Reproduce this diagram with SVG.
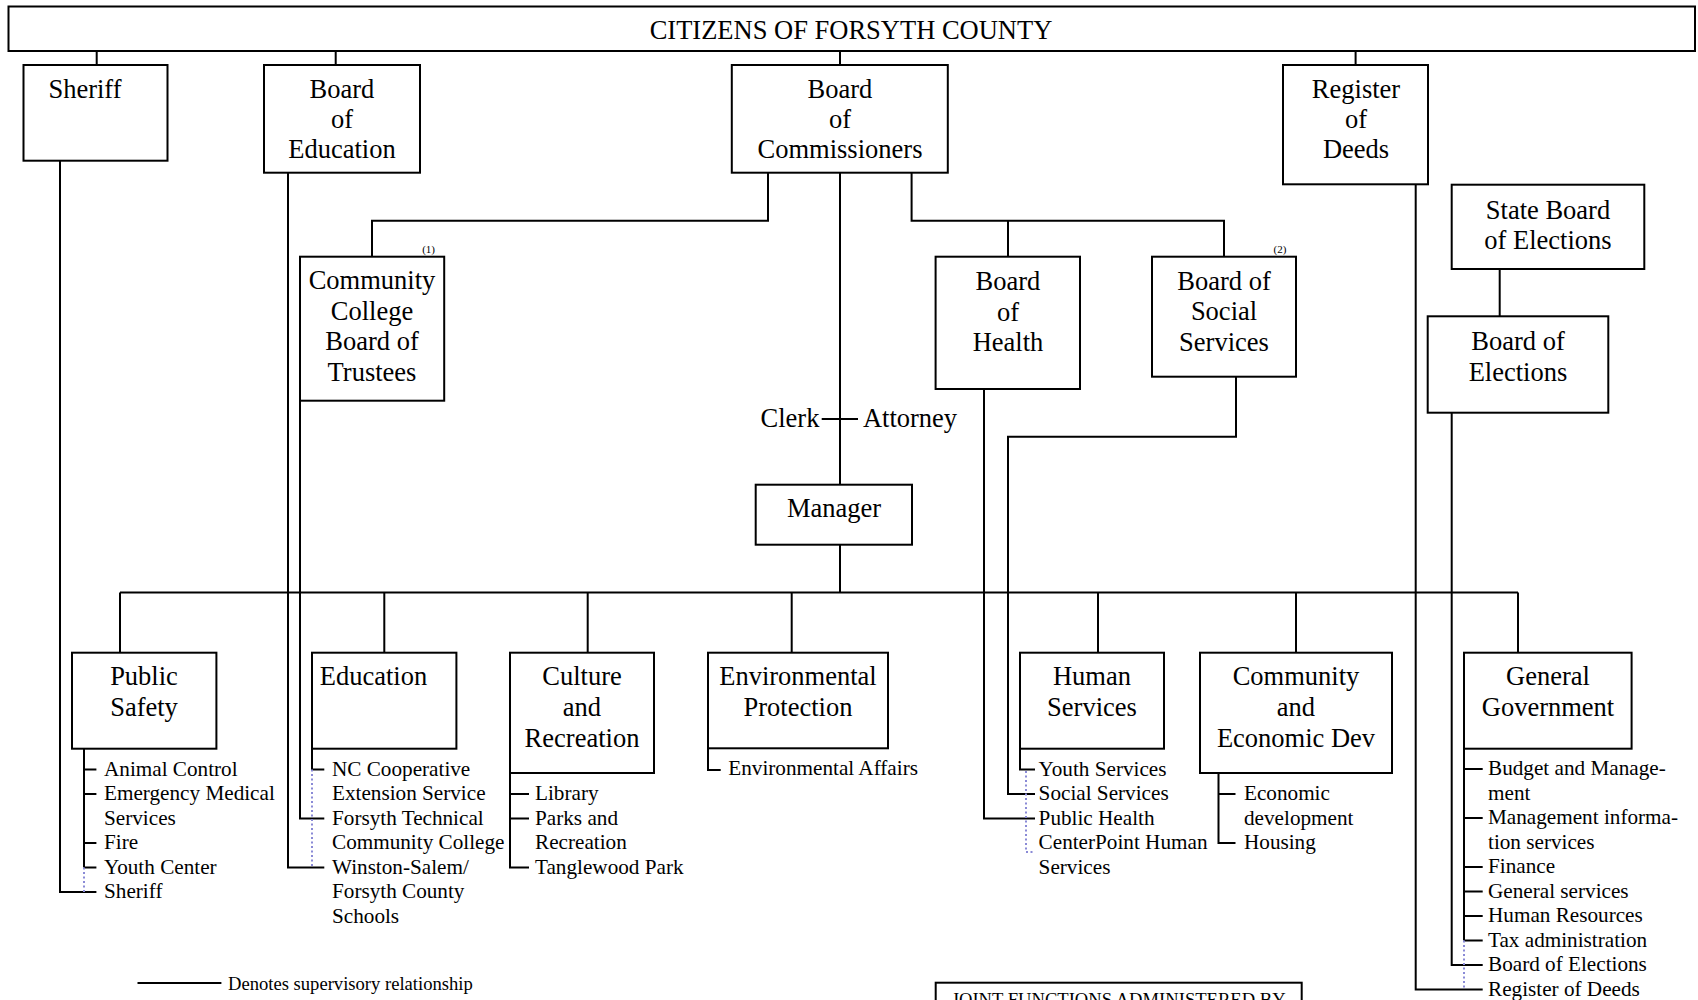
<svg xmlns="http://www.w3.org/2000/svg" width="1698" height="1000" viewBox="0 0 1698 1000">
<style>
.box{fill:#fff;stroke:#000;stroke-width:2}
.t{font-family:"Liberation Serif","Times New Roman",serif;font-size:26.5px;fill:#000;text-anchor:middle}
.it{font-family:"Liberation Serif","Times New Roman",serif;font-size:21.2px;fill:#000}
.sm{font-family:"Liberation Serif","Times New Roman",serif;font-size:11px;fill:#000;text-anchor:middle}
.lg{font-family:"Liberation Serif","Times New Roman",serif;font-size:18.6px;fill:#000}
.ln{fill:none;stroke:#000;stroke-width:2}
.dot{fill:none;stroke:#8a8ad6;stroke-width:2;stroke-dasharray:2 2.5}
</style>
<rect width="1698" height="1000" fill="#fff"/>
<g id="connectors">
<path class="ln" d="M96.7 51V65M335.7 51V65M840 51V65M1355.6 51V65"/>
<path class="ln" d="M768 172.7V220.7H372V256.7"/>
<path class="ln" d="M840 172.7V484.7M821.7 419H858"/>
<path class="ln" d="M911.6 172.7V220.7H1224V256.7M1008 220.7V256.7"/>
<path class="ln" d="M1499.7 269V316.3"/>
<path class="ln" d="M840 544.7V592.5M120 592.5H1518"/>
<path class="ln" d="M120 592.5V652.7M384.3 592.5V652.7M587.7 592.5V652.7M791.7 592.5V652.7M1098 592.5V652.7M1296 592.5V652.7M1518 592.5V652.7"/>
<path class="ln" d="M60 160.7V892H96.4"/>
<path class="ln" d="M288 172.7V867.5H324.3"/>
<path class="ln" d="M300 400.7V818.5H324.3"/>
<path class="ln" d="M984 380V818.5H1035"/>
<path class="ln" d="M1236 376.7V436.7H1008V794H1035"/>
<path class="ln" d="M1415.7 184.3V989.5H1482.7"/>
<path class="ln" d="M1451.7 412.7V965H1482.7"/>
<path class="ln" d="M84 748.7V867.5M84 769.5H96.4M84 794H96.4M84 843H96.4M84 867.5H96.4"/>
<path class="dot" d="M84 867.5V892"/>
<path class="ln" d="M312 748.7V769.5H324.3"/>
<path class="dot" d="M312 769.5V867.5"/>
<path class="ln" d="M510 773V867.5H529M510 794H529M510 818.5H529"/>
<path class="ln" d="M708 748.3V770H720.7"/>
<path class="ln" d="M1020 748.7V769.5H1035"/>
<path class="dot" d="M1026 771V852H1035"/>
<path class="ln" d="M1218.5 773V843H1235.5M1218.5 794H1235.5"/>
<path class="ln" d="M1464 748.7V940.5M1464 769H1482.7M1464 818H1482.7M1464 867H1482.7M1464 891.5H1482.7M1464 916H1482.7M1464 940.5H1482.7"/>
<path class="dot" d="M1464 940.5V989.5"/>
<path class="ln" d="M137.5 983H221.4"/>
</g>
<g id="citizens"><rect class="box" x="8.5" y="6.5" width="1686.5" height="44.5"/><text class="t" x="851" y="38.5">CITIZENS OF FORSYTH COUNTY</text></g>
<g id="sheriff"><rect class="box" x="23.5" y="65" width="144" height="95.7"/><text class="t" x="85" y="97.5">Sheriff</text></g>
<g id="board-of-education"><rect class="box" x="264" y="65" width="156" height="107.7"/><text class="t" x="342" y="97.5">Board</text><text class="t" x="342" y="128">of</text><text class="t" x="342" y="158.3">Education</text></g>
<g id="board-of-commissioners"><rect class="box" x="731.8" y="65" width="216" height="107.7"/><text class="t" x="840" y="97.5">Board</text><text class="t" x="840" y="128">of</text><text class="t" x="840" y="158.3">Commissioners</text></g>
<g id="register-of-deeds"><rect class="box" x="1283" y="65" width="145" height="119.3"/><text class="t" x="1356" y="97.5">Register</text><text class="t" x="1356" y="128">of</text><text class="t" x="1356" y="158.3">Deeds</text></g>
<g id="community-college-trustees"><rect class="box" x="300" y="256.7" width="144.2" height="144"/><text class="sm" x="428.6" y="252.5">(1)</text><text class="t" x="372" y="289">Community</text><text class="t" x="372" y="319.5">College</text><text class="t" x="372" y="350">Board of</text><text class="t" x="372" y="380.5">Trustees</text></g>
<g id="board-of-health"><rect class="box" x="935.6" y="256.7" width="144.4" height="132.3"/><text class="t" x="1008" y="290">Board</text><text class="t" x="1008" y="320.5">of</text><text class="t" x="1008" y="351">Health</text></g>
<g id="board-of-social-services"><rect class="box" x="1152" y="256.7" width="144" height="120"/><text class="sm" x="1280" y="252.5">(2)</text><text class="t" x="1224" y="289.5">Board of</text><text class="t" x="1224" y="320">Social</text><text class="t" x="1224" y="350.5">Services</text></g>
<g id="state-board-of-elections"><rect class="box" x="1451.7" y="184.7" width="192.6" height="84.3"/><text class="t" x="1548" y="218.5">State Board</text><text class="t" x="1548" y="248.5">of Elections</text></g>
<g id="board-of-elections"><rect class="box" x="1427.7" y="316.3" width="180.6" height="96.4"/><text class="t" x="1518" y="350">Board of</text><text class="t" x="1518" y="380.5">Elections</text></g>
<g id="clerk"><text class="t" x="790" y="427">Clerk</text></g>
<g id="attorney"><text class="t" x="910" y="427">Attorney</text></g>
<g id="manager"><rect class="box" x="755.7" y="484.7" width="156.3" height="60"/><text class="t" x="834" y="517">Manager</text></g>
<g id="public-safety"><rect class="box" x="72" y="652.7" width="144.4" height="96"/><text class="t" x="144" y="685">Public</text><text class="t" x="144" y="715.7">Safety</text>
<text class="it" x="104" y="775.5">Animal Control</text><text class="it" x="104" y="800">Emergency Medical</text><text class="it" x="104" y="824.5">Services</text><text class="it" x="104" y="849">Fire</text><text class="it" x="104" y="873.5">Youth Center</text><text class="it" x="104" y="898">Sheriff</text></g>
<g id="education"><rect class="box" x="312" y="652.7" width="144.4" height="96"/><text class="t" x="373.5" y="685">Education</text>
<text class="it" x="332" y="775.5">NC Cooperative</text><text class="it" x="332" y="800">Extension Service</text><text class="it" x="332" y="824.5">Forsyth Technical</text><text class="it" x="332" y="849">Community College</text><text class="it" x="332" y="873.5">Winston-Salem/</text><text class="it" x="332" y="898">Forsyth County</text><text class="it" x="332" y="922.5">Schools</text></g>
<g id="culture-and-recreation"><rect class="box" x="510" y="652.7" width="144" height="120.3"/><text class="t" x="582" y="685">Culture</text><text class="t" x="582" y="715.7">and</text><text class="t" x="582" y="746.5">Recreation</text>
<text class="it" x="535" y="800">Library</text><text class="it" x="535" y="824.5">Parks and</text><text class="it" x="535" y="849">Recreation</text><text class="it" x="535" y="873.5">Tanglewood Park</text></g>
<g id="environmental-protection"><rect class="box" x="708" y="652.7" width="180" height="95.6"/><text class="t" x="798" y="685">Environmental</text><text class="t" x="798" y="715.7">Protection</text>
<text class="it" x="728.3" y="774.5">Environmental Affairs</text></g>
<g id="human-services"><rect class="box" x="1020" y="652.7" width="144" height="96"/><text class="t" x="1092" y="685">Human</text><text class="t" x="1092" y="715.7">Services</text>
<text class="it" x="1038.6" y="775.5">Youth Services</text><text class="it" x="1038.6" y="800">Social Services</text><text class="it" x="1038.6" y="824.5">Public Health</text><text class="it" x="1038.6" y="849">CenterPoint Human</text><text class="it" x="1038.6" y="873.5">Services</text></g>
<g id="community-economic-dev"><rect class="box" x="1200" y="652.7" width="192" height="120.3"/><text class="t" x="1296" y="685">Community</text><text class="t" x="1296" y="715.7">and</text><text class="t" x="1296" y="746.5">Economic Dev</text>
<text class="it" x="1244" y="800">Economic</text><text class="it" x="1244" y="824.5">development</text><text class="it" x="1244" y="849">Housing</text></g>
<g id="general-government"><rect class="box" x="1464" y="652.7" width="167.6" height="96"/><text class="t" x="1548" y="685">General</text><text class="t" x="1548" y="715.7">Government</text>
<text class="it" x="1488" y="775">Budget and Manage-</text><text class="it" x="1488" y="799.5">ment</text><text class="it" x="1488" y="824">Management informa-</text><text class="it" x="1488" y="848.5">tion services</text><text class="it" x="1488" y="873">Finance</text><text class="it" x="1488" y="897.5">General services</text><text class="it" x="1488" y="922">Human Resources</text><text class="it" x="1488" y="946.5">Tax administration</text><text class="it" x="1488" y="971">Board of Elections</text><text class="it" x="1488" y="995.5">Register of Deeds</text></g>
<g id="legend"><text class="lg" x="228" y="989.5">Denotes supervisory relationship</text></g>
<g id="joint-functions"><rect class="box" x="935.7" y="982.7" width="366" height="60"/><text class="lg" x="1118.7" y="1005.5" text-anchor="middle">JOINT FUNCTIONS ADMINISTERED BY</text></g>
</svg>
